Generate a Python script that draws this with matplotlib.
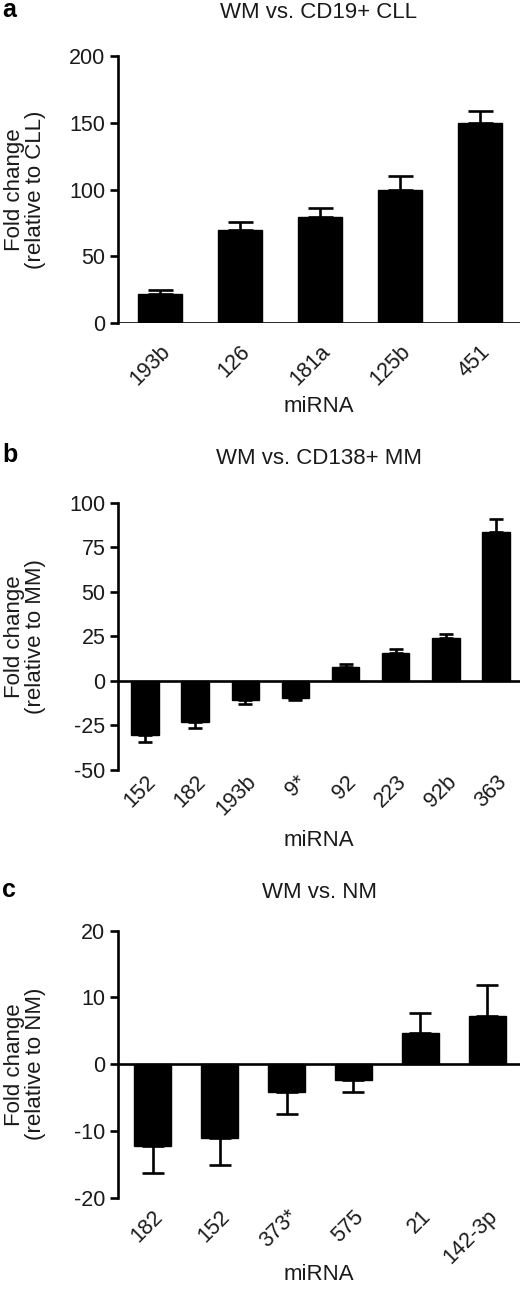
import matplotlib
matplotlib.use("Agg")
import matplotlib.pyplot as plt

plt.rcParams['font.family'] = ['Liberation Sans', 'DejaVu Sans']
plt.rcParams['axes.unicode_minus'] = False

# Panel a: WM vs. CD19+ CLL
a_labels = ["193b", "126", "181a", "125b", "451"]
a_values = [22, 69.5, 79.5, 100, 150]
a_errors = [2.5, 6.5, 6.5, 10, 9]

# Panel b: WM vs. CD138+ MM
b_labels = ["152", "182", "193b", "9*", "92", "223", "92b", "363"]
b_values = [-30.3, -22.8, -10.7, -9.7, 8.0, 15.5, 23.9, 83.7]
b_errors = [4.0, 3.7, 2.2, 1.0, 1.3, 2.3, 2.3, 7.3]

# Panel c: WM vs. NM
c_labels = ["182", "152", "373*", "575", "21", "142-3p"]
c_values = [-12.25, -11.0, -4.2, -2.35, 4.65, 7.15]
c_errors = [4.1, 4.1, 3.3, 1.75, 3.0, 4.7]

W, H = 524, 1291
fig = plt.figure(figsize=(W / 100, H / 100), dpi=100)

panels = [
    dict(letter="a", title="WM vs. CD19+ CLL", ylabel="Fold change\n(relative to CLL)",
         labels=a_labels, values=a_values, errors=a_errors,
         ylim=(0, 200), yticks=[0, 50, 100, 150, 200], top=56, bottom=323,
         capsize=9, xlim_pad=(0.52, 0.5), title_y=13, letter_y=10, xlabel_y=407, xpad=13),
    dict(letter="b", title="WM vs. CD138+ MM", ylabel="Fold change\n(relative to MM)",
         labels=b_labels, values=b_values, errors=b_errors,
         ylim=(-50, 100), yticks=[-50, -25, 0, 25, 50, 75, 100], top=502.7, bottom=770,
         capsize=5, xlim_pad=(0.54, 0.48), title_y=458, letter_y=455, xlabel_y=840, xpad=1),
    dict(letter="c", title="WM vs. NM", ylabel="Fold change\n(relative to NM)",
         labels=c_labels, values=c_values, errors=c_errors,
         ylim=(-20, 20), yticks=[-20, -10, 0, 10, 20], top=930.7, bottom=1197.7,
         capsize=8, xlim_pad=(0.52, 0.49), title_y=893, letter_y=890, xlabel_y=1275, xpad=6),
]

left_px, right_px = 118, 520
lw = 1.9
fs = 15.5
tc = "#1a1a1a"

for p in panels:
    ax = fig.add_axes([left_px / W, 1 - p["bottom"] / H,
                       (right_px - left_px) / W, (p["bottom"] - p["top"]) / H])
    n = len(p["labels"])
    x = list(range(n))
    vals = p["values"]
    errs = p["errors"]
    lower = [e if v < 0 else 0 for v, e in zip(vals, errs)]
    upper = [e if v >= 0 else 0 for v, e in zip(vals, errs)]
    ax.bar(x, vals, width=0.55, color="black", edgecolor="black", zorder=2)
    ax.errorbar(x, vals, yerr=[lower, upper], fmt="none", ecolor="black",
                elinewidth=lw, capsize=p["capsize"], capthick=lw, zorder=1)
    ax.axhline(0, color="black", linewidth=lw, zorder=3)
    ax.set_xlim(-p["xlim_pad"][0], n - 1 + p["xlim_pad"][1])
    ax.set_ylim(*p["ylim"])
    ax.set_yticks(p["yticks"])
    ax.set_xticks(x)
    ax.set_xticklabels(p["labels"], rotation=45, ha="right", rotation_mode="anchor",
                       fontsize=fs, color=tc)
    for s in ["top", "right", "bottom"]:
        ax.spines[s].set_visible(False)
    ax.spines["left"].set_linewidth(lw)
    ax.tick_params(axis="y", direction="out", length=6, width=lw, labelsize=fs,
                   labelcolor=tc, pad=3)
    ax.tick_params(axis="x", length=0, pad=p["xpad"])
    ax.set_facecolor("none")
    # y label
    ymid = (p["top"] + p["bottom"]) / 2
    fig.text(25 / W, 1 - ymid / H, p["ylabel"], rotation=90, ha="center", va="center",
             fontsize=16, color=tc, linespacing=1.05)
    # title
    fig.text((left_px + right_px) / 2 / W, 1 - p["title_y"] / H, p["title"],
             ha="center", va="center", fontsize=16, color=tc)
    # letter
    fig.text(2 / W, 1 - p["letter_y"] / H, p["letter"], ha="left", va="center",
             fontsize=18, fontweight="bold", color="black")
    # xlabel
    fig.text((left_px + right_px) / 2 / W, 1 - p["xlabel_y"] / H, "miRNA",
             ha="center", va="center", fontsize=16, color=tc)

fig.savefig("out.png", dpi=100)
